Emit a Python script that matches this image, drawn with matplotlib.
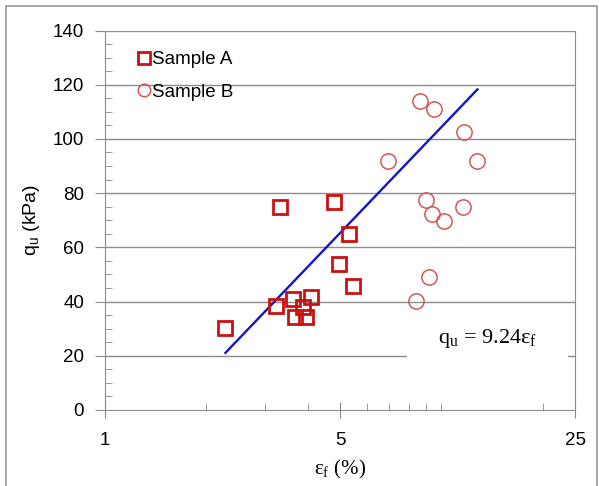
import matplotlib
matplotlib.use("Agg")
import matplotlib.pyplot as plt
import numpy as np
from matplotlib.ticker import FixedLocator, NullFormatter
from matplotlib.lines import Line2D

# Strain at failure (%) and unconfined compressive strength (kPa)
strain_a = [2.28, 3.32, 3.22, 3.61, 3.66, 3.88, 3.96, 4.09, 4.78, 4.97, 5.33, 5.46]
qu_a = [30.2, 74.9, 38.5, 40.9, 34.2, 38.0, 34.2, 41.8, 76.8, 53.9, 64.8, 45.7]

strain_b = [8.61, 9.49, 11.67, 6.93, 12.8, 9.0, 9.39, 10.19, 11.6, 9.17, 8.4]
qu_b = [114.1, 111.1, 102.7, 91.8, 91.8, 77.4, 72.4, 69.6, 74.9, 49.2, 40.3]

SLOPE = 9.24
x_major = [1, 5, 25]
x_minor = [2, 3, 4, 6, 7, 8, 9, 10, 20]

plt.rcParams['font.family'] = ['Liberation Sans', 'DejaVu Sans']

W, H = 599, 486
fig = plt.figure(figsize=(W / 100, H / 100), dpi=100)
ax = fig.add_axes([0.1753, 0.1564, 0.785, 0.7808])

# outer frame around the chart
fig.add_artist(plt.Rectangle((6 / W, -0.1), 591 / W, 1 - 6 / H + 0.1,
                             transform=fig.transFigure, fill=False,
                             edgecolor='#9a9a9a', lw=1.2))

grid_c = '#8c8c8c'
for yv in range(20, 141, 20):
    ax.axhline(yv, color=grid_c, lw=1.0, zorder=0)

# best fit through the origin, over the data range
all_x = strain_a + strain_b
x_fit = np.array([min(all_x), max(all_x)])
ax.plot(x_fit, SLOPE * x_fit, color='#1414c4', lw=1.7, zorder=2)

ax.plot(strain_a, qu_a, 's', ms=10, mfc='none', mec='#cc1010', mew=2.0,
        zorder=3)
ax.plot(strain_b, qu_b, 'o', ms=11, mfc='none', mec='#d05858', mew=1.1,
        zorder=3)

ax.set_xscale('log', base=5)
ax.set_xlim(1, 25)
ax.set_ylim(0, 140)
ax.xaxis.set_major_locator(FixedLocator(x_major))
ax.set_xticklabels([str(v) for v in x_major])
ax.xaxis.set_minor_locator(FixedLocator(x_minor))
ax.xaxis.set_minor_formatter(NullFormatter())
ax.set_yticks(range(0, 141, 20))
ax.yaxis.set_minor_locator(FixedLocator(range(5, 140, 5)))

ax.tick_params(axis='x', which='major', direction='inout', length=12,
               color=grid_c, labelsize=13.5, pad=10)
ax.tick_params(axis='x', which='minor', direction='in', length=5, color=grid_c)
ax.tick_params(axis='y', which='major', direction='out', length=7,
               color=grid_c, labelsize=13.5, pad=8)
ax.tick_params(axis='y', which='minor', direction='in', length=5, color=grid_c)

for s in ['left', 'bottom', 'right', 'top']:
    ax.spines[s].set_color(grid_c)
ax.spines['top'].set_visible(False)

ax.set_ylabel('q$_\\mathregular{u}$ (kPa)', fontsize=14, labelpad=8)
ax.set_xlabel('ε$_\\mathregular{f}$ (%)', fontsize=15, labelpad=6,
              family=['Liberation Serif', 'DejaVu Serif'])

# white box behind the equation, hiding the gridline underneath
ax.add_patch(plt.Rectangle((407 / W, (H - 362) / H), 161 / W, 50 / H,
                           transform=fig.transFigure, fc='white', ec='none',
                           clip_on=False, zorder=1.5))
ax.text(488 / W, (H - 339) / H,
        'q$_\\mathregular{u}$ = 9.24ε$_\\mathregular{f}$',
        transform=fig.transFigure, fontsize=16, ha='center', va='center',
        family=['Liberation Serif', 'DejaVu Serif'], zorder=4)

handles = [
    Line2D([], [], ls='none', marker='s', ms=9, mfc='none', mec='#cc1010',
           mew=2.0),
    Line2D([], [], ls='none', marker='o', ms=9, mfc='none', mec='#d05858',
           mew=1.1),
]
ax.legend(handles, ['Sample A', 'Sample B'], loc='upper left',
          bbox_to_anchor=(0.055, 0.965), frameon=False, fontsize=13.5,
          handlelength=0.6, handletextpad=0.15, labelspacing=0.8,
          borderaxespad=0)

fig.savefig('out.png', dpi=100, facecolor='white')
